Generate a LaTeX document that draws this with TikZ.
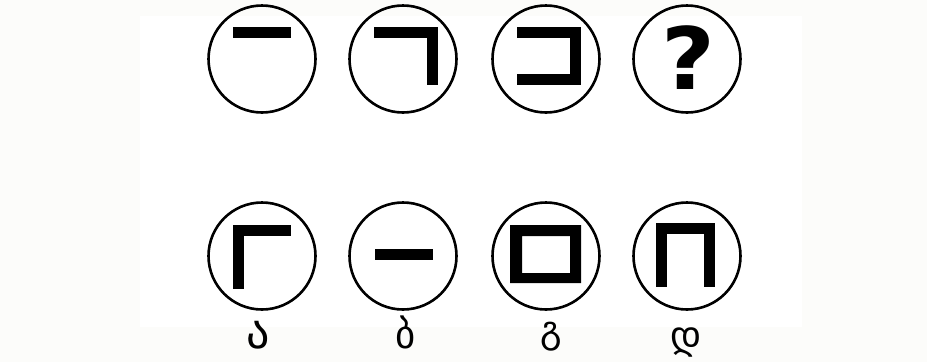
\documentclass[tikz,border=0pt]{standalone}
\usepackage{fontspec}
\usepackage{tikz}
\usetikzlibrary{positioning}
\newfontfamily\geofont{DejaVu Sans}
\newfontfamily\markfont{DejaVu Sans Bold}
\definecolor{pagegray}{RGB}{252,252,250}
\newcommand\blockat[3]{\fill ([shift={(#2)}]#1.center) rectangle ([shift={(#3)}]#1.center);}

\begin{document}
\begin{tikzpicture}[
  x=1pt, y=-1pt,
  ring/.style={circle, draw=black, line width=2.6pt, minimum size=107pt, inner sep=0pt},
  letter/.style={font=\geofont\fontsize{#1}{#1}\selectfont, inner sep=0pt, anchor=base}
]

% Page and white panel
\fill[pagegray] (0,0) rectangle (927,362);
\fill[white] (140,16) rectangle (802,327);
\useasboundingbox (0,0) rectangle (927,362);

% Top row
\node[ring] (t1) at (262,59) {};
\node[ring] (t2) at (403,59) {};
\node[ring] (t3) at (546,59) {};
\node[ring] (t4) at (687,59) {};

\blockat{t1}{-29,-32}{29,-21}
\blockat{t2}{-29,-32}{35,-21}
\blockat{t2}{24,-32}{35,26}
\blockat{t3}{-29,-32}{35,-21}
\blockat{t3}{24,-32}{35,26}
\blockat{t3}{-29,15}{35,26}
\node[inner sep=0pt, anchor=base] (ask) at (688,89) {\scalebox{1.08}[1]{\markfont\fontsize{86}{86}\selectfont ?}};

% Bottom row (answers)
\node[ring] (b1) at (262,256) {};
\node[ring] (b2) at (403,256) {};
\node[ring] (b3) at (546,256) {};
\node[ring] (b4) at (687,256) {};

\blockat{b1}{-29,-31}{29,-20}
\blockat{b1}{-29,-31}{-18,33}
\blockat{b2}{-28,-7}{30,4}
\fill[even odd rule] ([shift={(-36,-31)}]b3.center) rectangle ([shift={(35,27)}]b3.center)
  ([shift={(-24,-20)}]b3.center) rectangle ([shift={(24,17)}]b3.center);
\blockat{b4}{-31,-33}{28,-22}
\blockat{b4}{-31,-33}{-20,31}
\blockat{b4}{17,-33}{28,31}

% Labels
\node[letter=46] (l1) at (258,348) {ა};
\node[letter=39] (l2) at (406,348) {ბ};
\node[letter=37] (l3) at (551,342) {გ};
\node[letter=38] (l4) at (686,348) {დ};

\end{tikzpicture}
\end{document}
